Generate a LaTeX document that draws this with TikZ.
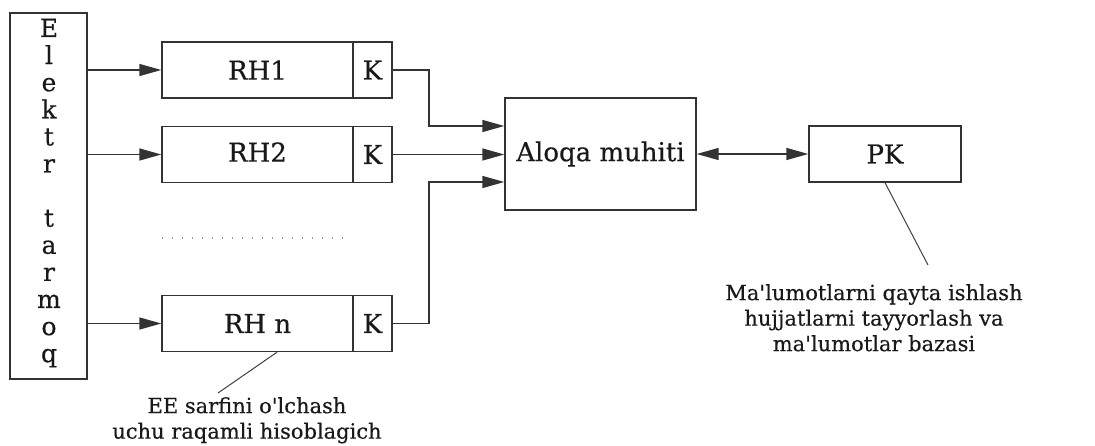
\documentclass[tikz,border=0pt]{standalone}
\usepackage{fontspec}
\setmainfont{DejaVu Serif}[Ligatures=TeXOff,FakeBold=0.4]
\usetikzlibrary{arrows.meta,calc}
\begin{document}
\begin{tikzpicture}[x=1pt,y=-1pt,
  box/.style={draw=black!80, line width=1.4pt, inner sep=0pt, minimum height=56pt, text=black!90, font=\fontsize{26}{30}\selectfont},
  lbl/.style={inner sep=0pt, text=black!90, font=\fontsize{25}{29}\selectfont},
  note/.style={align=center, inner sep=0pt, text=black!90, font=\fontsize{21}{25.5}\selectfont},
  arr/.style={draw=black!80, line width=1.4pt, -{Triangle[length=22pt,width=12pt]}},
  darr/.style={draw=black!80, line width=1.4pt, {Triangle[length=22pt,width=12pt]}-{Triangle[length=22pt,width=12pt]}},
  pointer/.style={draw=black!75, line width=1pt},
  dots/.style={draw=black!40, line width=1.2pt, dash pattern=on 1.2pt off 8.8pt}]
\fill[white] (0,0) rectangle (1095,446);
\useasboundingbox (0,0) rectangle (1095,446);

% Elektr tarmoq
\node[box, minimum width=77pt, minimum height=366pt] (et) at (48.5,196) {};
\foreach \ch/\i in {E/0,l/1,e/2,k/3,t/4,r/5,t/7,a/8,r/9,m/10,o/11,q/12}
  \node[lbl, anchor=base] (et\i) at (49,37+27.1*\i) {\ch};

% meters
\node[box, minimum width=191pt] (rh1) at (257.5,70) {\raisebox{-3pt}{RH1}};
\node[box, minimum width=39pt] (k1) at (372.5,70) {K};
\node[box, minimum width=191pt] (rh2) at (257.5,154.5) {\raisebox{5pt}{RH2}};
\node[box, minimum width=39pt] (k2) at (372.5,154.5) {K};
\node[box, minimum width=191pt] (rhn) at (257.5,323.5) {\raisebox{-3pt}{RH n}};
\node[box, minimum width=39pt] (kn) at (372.5,323.5) {K};

\coordinate (d1) at (162,238);
\coordinate (d2) at (346,238);
\draw[dots] (d1) -- (d2);

% communication medium and PC
\node[box, minimum width=191pt, minimum height=112pt] (al) at (600.5,154) {Aloqa muhiti};
\node[box, minimum width=152pt] (pk) at (885,154) {PK};

% arrows from network
\draw[arr] (et.east |- rh1.west) -- (rh1.west);
\draw[arr] (et.east |- rh2.west) -- (rh2.west);
\draw[arr] (et.east |- rhn.west) -- (rhn.west);

% arrows to medium
\coordinate (j1) at (429,126);
\coordinate (j3) at (429,182);
\draw[arr] (k1.east) -| (j1) -- (j1 -| al.west);
\draw[arr] (k2.east) -- (k2.east -| al.west);
\draw[arr] (kn.east) -| (j3) -- (j3 -| al.west);
\draw[darr] (al.east) -- (pk.west);

% annotations
\coordinate (pkp) at (928,265);
\draw[pointer] (pk.south) -- (pkp);
\node[note, anchor=north] (pknote) at (874,284) {Ma'lumotlarni qayta ishlash\\hujjatlarni tayyorlash va\\ma'lumotlar bazasi};

\coordinate (rhp) at (218,393);
\draw[pointer] ($(rhn.south)+(19.5,0)$) -- (rhp);
\node[note, anchor=north] (rhnote) at (247,397) {EE sarfini o'lchash\\uchu raqamli hisoblagich};
\end{tikzpicture}
\end{document}
